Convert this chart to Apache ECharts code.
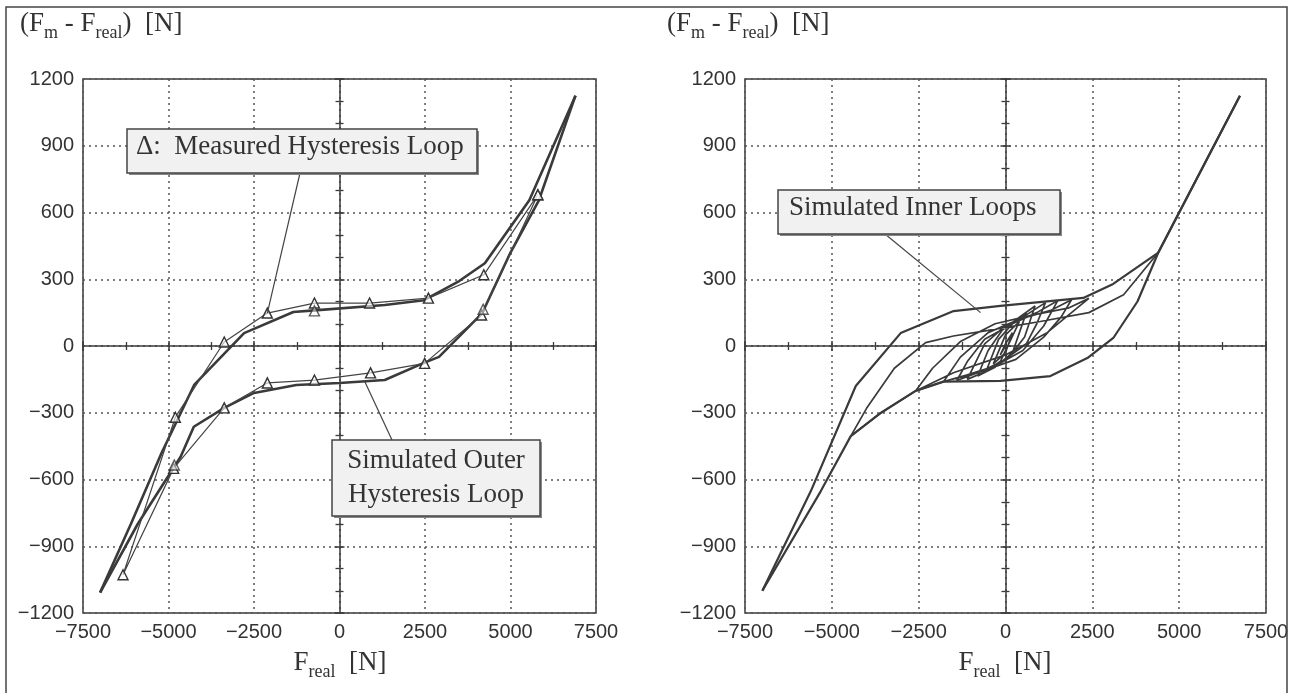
<!DOCTYPE html>
<html><head><meta charset="utf-8">
<script src="https://cdn.jsdelivr.net/npm/echarts@6/dist/echarts.min.js"></script>
<style>html,body{margin:0;padding:0;background:#fff}#c{width:1297px;height:693px}</style>
</head><body><div id="c"></div>
<script>
// ---------- data ----------
const xTicks = [-7500, -5000, -2500, 0, 2500, 5000, 7500];
const yTicks = [-1200, -900, -600, -300, 0, 300, 600, 900, 1200];

// left panel: simulated outer hysteresis loop (thick)
const simUpper = [[6900,1125],[5550,655],[4250,372],[3500,292],[2470,206],[1323,184],[-733,160],[-1350,153],[-2790,58],[-4250,-175],[-5200,-480],[-6100,-800],[-7000,-1108]];
const simLower = [[-7000,-1108],[-5900,-800],[-4645,-498],[-4260,-363],[-3370,-278],[-2500,-211],[-1264,-175],[0,-166],[1323,-153],[2470,-76],[2910,-49],[4175,148],[5000,420],[5830,655],[6900,1125]];
// left panel: measured hysteresis loop (thin, triangles)
const measLoop = [[5800,680],[4220,320],[2600,215],[880,193],[-733,193],[-2110,148],[-3370,18],[-4800,-320],[-6330,-1028],[-4850,-550],[-3370,-278],[-2110,-166],[-733,-153],[908,-121],[2490,-78],[4155,139],[5800,680]];
const measExtra = [[-733,158],[4200,165],[-4830,-535]];

// right panel: outer loop
const outerDesc = [[6750,1125],[4400,420],[3100,279],[2240,216],[-144,180],[-1494,157],[-3018,58],[-4311,-180],[-5604,-652],[-7000,-1100]];
const outerAsc = [[-7000,-1100],[-5317,-652],[-4455,-405],[-3593,-301],[-2590,-202],[-1780,-160],[-144,-157],[1293,-135],[2357,-54],[3104,36],[3800,200],[4400,420],[6750,1125]];
// right panel: simulated inner loops (decaying sequence of branches)
const innerLoops = [
 [4400,420],[3400,230],[2400,150],[1000,110],[-500,70],[-1500,45],[-2300,15],[-3200,-100],[-4000,-280],[-4455,-405],
 [-3593,-301],[-2590,-202],[-1500,-120],[0,-40],[1200,60],[1900,150],[2400,214],
 [1800,170],[800,140],[-300,100],[-1300,20],[-2100,-100],[-2590,-202],
 [-1800,-160],[-800,-120],[300,-60],[1100,40],[1600,130],[1900,208],
 [1300,160],[400,120],[-500,60],[-1300,-50],[-1780,-160],
 [-1100,-130],[-300,-90],[500,-20],[1100,90],[1500,203],
 [900,150],[200,100],[-600,30],[-1100,-70],[-1400,-155],
 [-800,-120],[-100,-70],[600,10],[900,100],[1150,195],
 [600,140],[0,90],[-600,10],[-1100,-150],
 [-500,-110],[100,-50],[550,40],[850,180],
 [400,130],[-100,70],[-500,-20],[-800,-135],
 [-300,-95],[200,-30],[600,150],
 [200,100],[-200,30],[-550,-110],
 [-150,-70],[400,110],
 [0,50],[-350,-80],
 [0,-30],[200,60],
 [0,10],[-150,-40],[0,0]
];

// annotation anchors (data coords)
const leader1Target = [-2110, 148];
const leader2Target = [735, -158];
const leader3Target = [-718, 150];

// ---------- chart ----------
const AX = '#3a3a3a';
const fmt = v => (v < 0 ? '\u2212' + Math.abs(v) : String(v));
const chart = echarts.init(document.getElementById('c'), null, {renderer: 'canvas'});

function xAxes(g) {
  const base = {type: 'value', gridIndex: g, min: xTicks[0], max: xTicks[xTicks.length-1], interval: 2500, position: 'bottom'};
  return [
    Object.assign({}, base, {
      axisLine: {lineStyle: {color: AX, width: 1.5}},
      axisTick: {length: 5, lineStyle: {color: AX, width: 1.5}},
      minorTick: {show: true, splitNumber: 2, length: 4, lineStyle: {color: AX, width: 1.3}},
      axisLabel: {formatter: fmt, fontFamily: 'Liberation Sans', fontSize: 20, color: '#333', margin: 9},
      splitLine: {show: true, lineStyle: {color: '#555', type: [2, 4], width: 1.5}}
    }),
    Object.assign({}, base, {
      axisLine: {show: false},
      axisTick: {inside: true, length: 5, lineStyle: {color: AX, width: 1.5}},
      minorTick: {show: true, splitNumber: 2, length: 4, lineStyle: {color: AX, width: 1.3}},
      axisLabel: {show: false}, splitLine: {show: false}
    })
  ];
}
function yAxes(g) {
  const base = {type: 'value', gridIndex: g, min: yTicks[0], max: yTicks[yTicks.length-1], interval: 300, position: 'left'};
  return [
    Object.assign({}, base, {
      axisLine: {lineStyle: {color: AX, width: 1.5}},
      axisTick: {length: 5, lineStyle: {color: AX, width: 1.5}},
      minorTick: {show: true, splitNumber: 3, length: 4, lineStyle: {color: AX, width: 1.3}},
      axisLabel: {formatter: fmt, fontFamily: 'Liberation Sans', fontSize: 20, color: '#333', margin: 9},
      splitLine: {show: true, lineStyle: {color: '#555', type: [2, 4], width: 1.5}}
    }),
    Object.assign({}, base, {
      axisLine: {show: false},
      axisTick: {inside: true, length: 5, lineStyle: {color: AX, width: 1.5}},
      minorTick: {show: true, splitNumber: 3, length: 4, lineStyle: {color: AX, width: 1.3}},
      axisLabel: {show: false}, splitLine: {show: false}
    })
  ];
}

const lineS = (data, xi, w, color, extra) => Object.assign({
  type: 'line', data: data, xAxisIndex: xi, yAxisIndex: xi, symbol: 'none',
  lineStyle: {color: color, width: w}, silent: true, animation: false, z: 5
}, extra || {});

const triStyle = {symbol: 'triangle', symbolSize: 10, showSymbol: true,
  itemStyle: {color: 'rgba(255,255,255,0.6)', borderColor: '#333', borderWidth: 1.4}};

chart.setOption({
  animation: false,
  backgroundColor: '#fff',
  grid: [
    {left: 83, right: 701, top: 79, bottom: 80, show: true, borderColor: AX, borderWidth: 1.5, backgroundColor: 'transparent'},
    {left: 745, right: 31, top: 79, bottom: 80, show: true, borderColor: AX, borderWidth: 1.5, backgroundColor: 'transparent'}
  ],
  xAxis: [...xAxes(0), ...xAxes(1)],
  yAxis: [...yAxes(0), ...yAxes(1)],
  series: [
    lineS(simUpper, 0, 2.6, '#3a3a3a'),
    lineS(simLower, 0, 2.6, '#3a3a3a'),
    lineS(measLoop, 0, 1.2, '#444', triStyle),
    {type: 'scatter', data: measExtra, xAxisIndex: 0, yAxisIndex: 0, symbol: 'triangle', symbolSize: 10,
     itemStyle: triStyle.itemStyle, silent: true, z: 6},
    lineS(outerDesc, 2, 2.2, '#3a3a3a'),
    lineS(outerAsc, 2, 2.2, '#3a3a3a'),
    lineS(innerLoops, 2, 1.7, '#3a3a3a')
  ]
});

const px = (si, pt) => chart.convertToPixel({seriesIndex: si}, pt);
const t1 = px(0, leader1Target), t2 = px(0, leader2Target), t3 = px(4, leader3Target);

const serif = 'Liberation Serif';
function boxRect(x, y, w, h) {
  return [
    {type: 'rect', shape: {x: x + 2, y: y + 2, width: w, height: h}, style: {fill: '#888'}, z: 20},
    {type: 'rect', shape: {x: x, y: y, width: w, height: h}, style: {fill: '#f1f1f1', stroke: '#444', lineWidth: 1.5}, z: 21}
  ];
}
function txt(x, y, s, opt) {
  return Object.assign({type: 'text', x: x, y: y, z: 22,
    style: Object.assign({text: s, font: '27px "Liberation Serif"', fill: '#333'}, opt || {})});
}
const rich = {
  n: {fontFamily: serif, fontSize: 27, lineHeight: 36, verticalAlign: 'middle', color: '#333'},
  s: {fontFamily: serif, fontSize: 18, lineHeight: 36, verticalAlign: 'bottom', color: '#333'}
};
const yTitle = '{n|(F}{s|m}{n| - F}{s|real}{n|)  [N]}';
const xTitle = '{n|F}{s|real}{n|  [N]}';

chart.setOption({
  graphic: [
    {type: 'rect', shape: {x: 6, y: 7, width: 1281, height: 700}, style: {fill: 'none', stroke: '#444', lineWidth: 1.5}, z: 1},
    txt(20, 6, yTitle, {rich: rich, font: null}),
    txt(667, 6, yTitle, {rich: rich, font: null}),
    txt(340, 645, xTitle, {rich: rich, font: null, textAlign: 'center'}),
    txt(1005, 645, xTitle, {rich: rich, font: null, textAlign: 'center'}),
    // leader lines
    {type: 'line', shape: {x1: 300, y1: 173, x2: t1[0], y2: t1[1]}, style: {stroke: '#444', lineWidth: 1.2}, z: 19},
    {type: 'line', shape: {x1: 392, y1: 440, x2: t2[0], y2: t2[1]}, style: {stroke: '#444', lineWidth: 1.2}, z: 19},
    {type: 'line', shape: {x1: 885, y1: 234, x2: t3[0], y2: t3[1]}, style: {stroke: '#444', lineWidth: 1.2}, z: 19},
    // boxes
    ...boxRect(127, 129, 350, 44),
    txt(136, 133, '\u0394:  Measured Hysteresis Loop'),
    ...boxRect(332, 440, 208, 76),
    txt(436, 444, 'Simulated Outer\nHysteresis Loop', {textAlign: 'center', lineHeight: 34}),
    ...boxRect(778, 190, 282, 44),
    txt(789, 194, 'Simulated Inner Loops')
  ]
});
</script>
</body></html>
